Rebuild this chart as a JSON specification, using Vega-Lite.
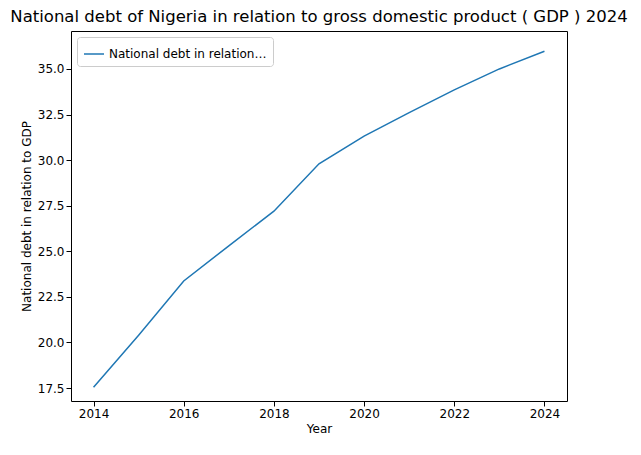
{
  "$schema": "https://vega.github.io/schema/vega-lite/v6.json",
  "width": 496,
  "height": 370,
  "padding": {"left": 10, "top": 8, "right": 5, "bottom": 5},
  "title": {"text": "National debt of Nigeria in relation to gross domestic product ( GDP ) 2024", "font": "DejaVu Sans", "fontSize": 16.5, "fontWeight": "normal", "color": "black", "offset": 6},
  "config": {"view": {"stroke": "black", "strokeWidth": 1}, "axis": {"labelFont": "DejaVu Sans", "titleFont": "DejaVu Sans", "labelFontSize": 12, "titleFontSize": 12, "titleFontWeight": "normal", "labelColor": "black", "titleColor": "black", "tickColor": "black", "domain": false, "grid": false}},
  "data": {"values": [
    {"Year": 2014, "v": 17.55, "s": "National debt in relation to GDP"},
    {"Year": 2015, "v": 20.4, "s": "National debt in relation to GDP"},
    {"Year": 2016, "v": 23.37, "s": "National debt in relation to GDP"},
    {"Year": 2017, "v": 25.3, "s": "National debt in relation to GDP"},
    {"Year": 2018, "v": 27.2, "s": "National debt in relation to GDP"},
    {"Year": 2019, "v": 29.8, "s": "National debt in relation to GDP"},
    {"Year": 2020, "v": 31.32, "s": "National debt in relation to GDP"},
    {"Year": 2021, "v": 32.6, "s": "National debt in relation to GDP"},
    {"Year": 2022, "v": 33.85, "s": "National debt in relation to GDP"},
    {"Year": 2023, "v": 35.0, "s": "National debt in relation to GDP"},
    {"Year": 2024, "v": 35.97, "s": "National debt in relation to GDP"}
  ]},
  "mark": {"type": "line", "strokeWidth": 1.5},
  "encoding": {
    "x": {"field": "Year", "type": "quantitative", "scale": {"domain": [2013.5, 2024.5], "nice": false, "zero": false}, "axis": {"values": [2014, 2016, 2018, 2020, 2022, 2024], "format": "d", "title": "Year"}},
    "y": {"field": "v", "type": "quantitative", "scale": {"domain": [16.79, 37.08], "nice": false, "zero": false}, "axis": {"values": [17.5, 20, 22.5, 25, 27.5, 30, 32.5, 35], "format": ".1f", "title": "National debt in relation to GDP"}},
    "color": {"field": "s", "type": "nominal", "scale": {"range": ["#1f77b4"]}, "legend": {"title": null, "orient": "top-left", "offset": 6, "symbolType": "stroke", "labelFont": "DejaVu Sans", "labelFontSize": 12, "labelColor": "black", "strokeColor": "#cccccc", "padding": 6, "cornerRadius": 3, "fillColor": "white", "symbolStrokeWidth": 1.5, "symbolSize": 400}}
  }
}
